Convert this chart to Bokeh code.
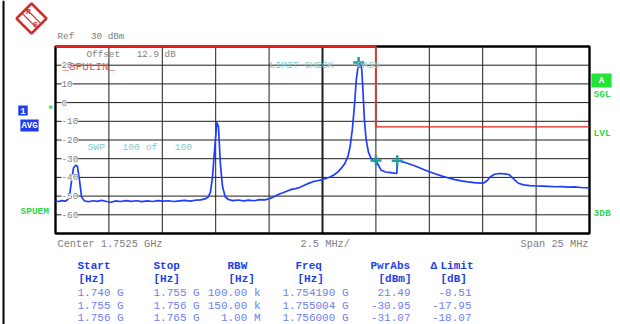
from bokeh.plotting import figure
from bokeh.models import Label, PolyAnnotation
from bokeh.embed import file_html
from bokeh.resources import INLINE

# ---------------- data ----------------
x_grid_mhz = [1742.5, 1745.0, 1747.5, 1750.0, 1752.5, 1755.0, 1757.5, 1760.0, 1762.5]
y_ticks_dbm = [20, 10, 0, -10, -20, -30, -40, -50, -60]
center_mhz = 1752.5
span_mhz = (1740.0, 1765.0)
level_span_dbm = (-70.0, 30.0)

trace_freq_mhz = [
    1740.00, 1740.15, 1740.30, 1740.45, 1740.58, 1740.66, 1740.75, 1740.84, 1740.94, 1741.03,
    1741.13, 1741.22, 1741.36, 1741.55, 1741.75, 1741.95, 1742.15, 1742.40, 1742.60, 1742.80,
    1743.05, 1743.30, 1743.55, 1743.80, 1744.05, 1744.30, 1744.55, 1744.80, 1745.05, 1745.30,
    1745.55, 1745.80, 1746.05, 1746.30, 1746.55, 1746.80, 1747.00, 1747.15, 1747.25, 1747.35,
    1747.45, 1747.55, 1747.63, 1747.72, 1747.82, 1747.95, 1748.10, 1748.30, 1748.55, 1748.80,
    1749.05, 1749.30, 1749.55, 1749.80, 1750.05, 1750.25, 1750.45, 1750.65, 1750.85, 1751.05,
    1751.25, 1751.45, 1751.65, 1751.85, 1752.05, 1752.25, 1752.45, 1752.65, 1752.85, 1753.05,
    1753.25, 1753.40, 1753.55, 1753.70, 1753.80, 1753.90, 1754.00, 1754.08, 1754.19, 1754.28,
    1754.34, 1754.40, 1754.46, 1754.54, 1754.65, 1754.78, 1754.90, 1755.004, 1755.12, 1755.25,
    1755.45, 1755.70, 1755.98, 1756.00, 1756.30, 1756.60, 1756.90, 1757.20, 1757.50, 1757.80,
    1758.10, 1758.40, 1758.70, 1759.00, 1759.30, 1759.60, 1759.90, 1760.05, 1760.20, 1760.35,
    1760.55, 1760.80, 1761.05, 1761.25, 1761.45, 1761.65, 1761.90, 1762.20, 1762.50, 1762.80,
    1763.10, 1763.40, 1763.70, 1764.00, 1764.30, 1764.60, 1765.00,
]
trace_level_dbm = [
    -52.6, -52.9, -52.4, -52.7, -51.8, -49.5, -42.0, -35.0, -33.5, -34.2,
    -42.0, -50.5, -52.6, -53.0, -52.5, -52.8, -52.3, -52.9, -53.3, -52.6,
    -52.9, -52.4, -52.8, -52.5, -53.0, -52.6, -52.9, -52.4, -52.7, -52.5,
    -52.9, -52.6, -52.3, -52.7, -52.2, -52.0, -51.5, -50.5, -48.0, -40.0,
    -25.0, -10.5, -13.0, -33.0, -45.0, -50.5, -51.8, -52.4, -52.1, -52.6,
    -52.2, -52.5, -51.9, -52.0, -51.3, -50.2, -49.0, -48.2, -47.3, -46.4,
    -46.0, -45.3, -44.2, -43.2, -42.3, -41.8, -41.3, -40.6, -39.8, -38.6,
    -36.8, -34.8, -32.5, -28.5, -23.0, -14.0, -1.0, 12.0, 21.49, 20.8,
    17.5, 5.0, -9.0, -19.5, -26.5, -30.0, -31.5, -30.95, -33.5, -36.2,
    -37.1, -37.4, -37.9, -31.07, -31.8, -33.0, -34.2, -35.6, -37.0, -38.2,
    -39.3, -40.3, -41.2, -41.9, -42.4, -42.8, -43.1, -43.0, -41.8, -39.8,
    -38.3, -37.9, -38.1, -38.6, -40.8, -43.0, -44.0, -44.4, -44.6, -44.7,
    -44.8, -45.0, -44.9, -45.2, -45.1, -45.4, -45.6,
]

limit_freq_mhz = [1740.0, 1755.0, 1755.0, 1765.0]
limit_level_dbm = [30.0, 30.0, -13.0, -13.0]

# marker table
start_hz = ["1.740 G", "1.755 G", "1.756 G"]
stop_hz = ["1.755 G", "1.756 G", "1.765 G"]
rbw_hz = ["100.00 k", "150.00 k", "1.00 M"]
marker_freq_ghz = [1.754190, 1.755004, 1.756000]
pwr_abs_dbm = [21.49, -30.95, -31.07]
delta_limit_db = [-8.51, -17.95, -18.07]

# ---------------- layout ----------------
W, H = 620, 324
FL, FT, FR, FB = 55, 46, 589, 233   # diagram edges in picture pixels
xpx = (FR - FL) / (span_mhz[1] - span_mhz[0])
ypx = (FB - FT) / (level_span_dbm[1] - level_span_dbm[0])
x_range = (span_mhz[0] - FL / xpx, span_mhz[1] + (W - FR) / xpx)
y_range = (level_span_dbm[0] - (H - FB) / ypx, level_span_dbm[1] + FT / ypx)

p = figure(width=W, height=H, x_range=x_range, y_range=y_range,
           output_backend="svg", toolbar_location=None,
           min_border_left=0, min_border_right=0, min_border_top=0, min_border_bottom=0)
p.xaxis.visible = False
p.yaxis.visible = False
p.grid.visible = False
p.outline_line_color = None
p.background_fill_color = "white"
p.border_fill_color = "white"

GRID = "#1e1e1e"
# graticule
p.segment(x0=x_grid_mhz, y0=[level_span_dbm[0]] * len(x_grid_mhz),
          x1=x_grid_mhz, y1=[level_span_dbm[1]] * len(x_grid_mhz),
          line_color=GRID, line_width=1)
p.segment(x0=[span_mhz[0]] * len(y_ticks_dbm), y0=y_ticks_dbm,
          x1=[span_mhz[1]] * len(y_ticks_dbm), y1=y_ticks_dbm,
          line_color=GRID, line_width=1)
p.segment(x0=[center_mhz], y0=[level_span_dbm[0]], x1=[center_mhz], y1=[level_span_dbm[1]],
          line_color=GRID, line_width=2)
# diagram frame
p.quad(left=span_mhz[0], right=span_mhz[1], bottom=level_span_dbm[0], top=level_span_dbm[1],
       fill_color=None, line_color="black", line_width=2.4)

# limit line
p.line(limit_freq_mhz[:2], limit_level_dbm[:2], line_color="#e8231f", line_width=2.4)
p.line(limit_freq_mhz[1:3], limit_level_dbm[1:3], line_color="#c4403c", line_width=2)
p.line(limit_freq_mhz[2:], limit_level_dbm[2:], line_color="#e8231f", line_width=1.2)

# trace
p.line(trace_freq_mhz, trace_level_dbm, line_color="#1f3dff", line_width=1.7)

# markers
p.scatter([f * 1000 for f in marker_freq_ghz], pwr_abs_dbm, marker="cross", size=11,
          line_color="#1e9ea0", line_width=2.5)

MONO = "Liberation Mono"
NB = "\u00a0"


def sx(X):
    return X


def sy(Y):
    return H - Y


def lab(X, Y, text, color="#808080", size="9.3px", align="left", bold=False, **kw):
    p.add_layout(Label(x=sx(X), y=sy(Y), x_units="screen", y_units="screen",
                       text=text.replace(" ", NB),
                       text_font=MONO, text_font_size=size, text_color=color,
                       text_align=align, text_baseline="middle",
                       text_font_style="bold" if bold else "normal", **kw))


# y tick labels inside the diagram
for v in y_ticks_dbm:
    p.add_layout(Label(x=sx(61), y=v, x_units="screen", y_units="data", text=str(v),
                       text_font=MONO, text_font_size="9.3px", text_color="#808080",
                       text_align="left", text_baseline="middle",
                       background_fill_color="white", background_fill_alpha=1.0))

# in-diagram texts
lab(86, 54, "Offset   12.9 dB")
lab(62, 66, "_SPULIN_", color="#e05555", size="11px")
lab(269, 65, "LIMIT CHECK    PASS", color="#7fcccc", size="9.7px")
lab(87, 147, "SWP   100 of   100", color="#7fcccc", size="9.7px")

# outside texts
lab(57, 36, "Ref   30 dBm")
lab(57, 243, "Center 1.7525 GHz", size="10.3px")
lab(300, 243, "2.5 MHz/", size="10.3px")
lab(588, 243, "Span 25 MHz", size="10.3px", align="right")

GREEN = "#2fd64a"
lab(47, 110, "*", color=GREEN, size="10px", bold=True)
lab(20, 211, "SPUEM", color=GREEN, size="9.5px", bold=True)
lab(593, 94, "SGL", color=GREEN, size="9.5px", bold=True)
lab(593, 133, "LVL", color=GREEN, size="9.5px", bold=True)
lab(593, 213, "3DB", color=GREEN, size="9.5px", bold=True)
lab(601, 80, " A ", color="white", size="9px", align="center", bold=True,
    background_fill_color="#22e33a", padding=2)

BLUEBOX = "#1f3cf0"
lab(22.5, 110, "1", color="white", size="9px", align="center", bold=True,
    background_fill_color=BLUEBOX, padding=2)
lab(29, 125, "AVG", color="white", size="9px", align="center", bold=True,
    background_fill_color=BLUEBOX, padding=1)

# left border line of the screen
p.add_layout(PolyAnnotation(xs=[2, 4, 4, 2], ys=[0, 0, H, H], xs_units="screen", ys_units="screen",
                            fill_color="black", fill_alpha=1, line_alpha=0))

# R&S logo
LOGO = "#d42a2a"
p.add_layout(PolyAnnotation(xs=[sx(31), sx(46), sx(31), sx(16)], ys=[sy(3), sy(18), sy(33), sy(18)],
                            xs_units="screen", ys_units="screen", fill_color="white", fill_alpha=1,
                            line_color=LOGO, line_alpha=1, line_width=2.5))
p.add_layout(PolyAnnotation(xs=[sx(25.6), sx(40.6), sx(36.4), sx(21.4)],
                            ys=[sy(8.4), sy(23.4), sy(27.6), sy(12.6)],
                            xs_units="screen", ys_units="screen", fill_alpha=0,
                            line_color=LOGO, line_alpha=1, line_width=1.2))
lab(28, 11, "R", color=LOGO, size="8px", align="center", bold=True)
lab(35, 24, "S", color=LOGO, size="8px", align="center", bold=True)

# marker table
HEAD = "#1f3fe8"
VAL = "#6f80f0"
rows_y = [292, 305, 317]
lab(77, 265, "Start", HEAD, "11px", bold=True)
lab(153, 265, "Stop", HEAD, "11px", bold=True)
lab(227, 265, "RBW", HEAD, "11px", bold=True)
lab(295, 265, "Freq", HEAD, "11px", bold=True)
lab(370, 265, "PwrAbs", HEAD, "11px", bold=True)
lab(430, 265, "\u0394", HEAD, "11px", bold=True)
lab(440, 265, "Limit", HEAD, "11px", bold=True)
lab(78, 278, "[Hz]", HEAD, "11px", bold=True)
lab(153, 278, "[Hz]", HEAD, "11px", bold=True)
lab(228, 278, "[Hz]", HEAD, "11px", bold=True)
lab(297, 278, "[Hz]", HEAD, "11px", bold=True)
lab(378, 278, "[dBm]", HEAD, "11px", bold=True)
lab(440, 278, "[dB]", HEAD, "11px", bold=True)
for i, Y in enumerate(rows_y):
    lab(77, Y, start_hz[i], VAL, "11px")
    lab(153, Y, stop_hz[i], VAL, "11px")
    lab(260, Y, rbw_hz[i], VAL, "11px", align="right")
    lab(282, Y, f"{marker_freq_ghz[i]:.6f} G", VAL, "11px")
    lab(410, Y, f"{pwr_abs_dbm[i]:.2f}", VAL, "11px", align="right")
    lab(471, Y, f"{delta_limit_db[i]:.2f}", VAL, "11px", align="right")

open("out.html", "w").write(file_html(p, INLINE))
